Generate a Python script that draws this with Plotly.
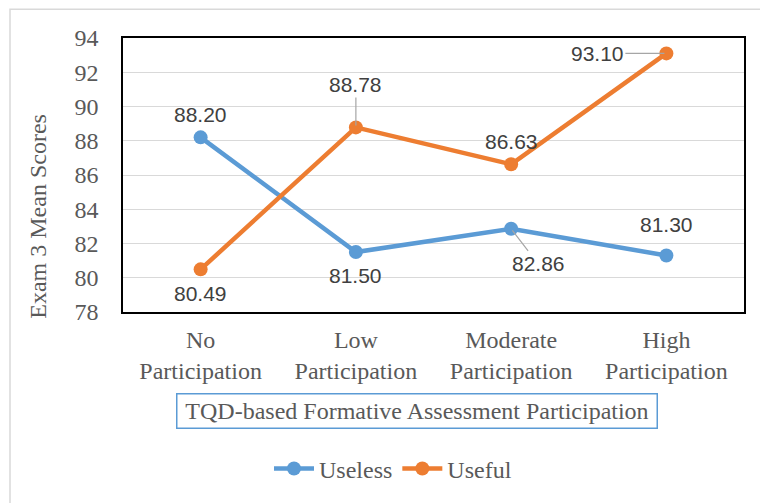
import plotly.graph_objects as go

# Exam 3 mean scores by formative-assessment participation level
categories = ["No<br>Participation", "Low<br>Participation",
              "Moderate<br>Participation", "High<br>Participation"]
useless = [88.20, 81.50, 82.86, 81.30]
useful = [80.49, 88.78, 86.63, 93.10]
y_ticks = [78, 80, 82, 84, 86, 88, 90, 92, 94]

BLUE = "#5B9BD5"
ORANGE = "#ED7D31"
SERIF = "Liberation Serif, Times New Roman, serif"
SANS = "Liberation Sans, Arial, sans-serif"

W, H = 760, 503
L, R, T, B = 123, 16, 38, 189
PW, PH = W - L - R, H - T - B


def px_x(px):
    return (px - L) / PW


def px_y(py):
    return (H - B - py) / PH


fig = go.Figure()
for name, vals, col in [("Useless", useless, BLUE), ("Useful", useful, ORANGE)]:
    fig.add_trace(go.Scatter(
        x=categories, y=vals, name=name, mode="lines+markers",
        line=dict(color=col, width=4.5),
        marker=dict(color=col, size=14),
    ))

# Data labels: (category index, value, x offset, y offset, leader line)
label_specs = [
    (0, useless[0], 0, -23, False),
    (1, useless[1], 0, 23, False),
    (2, useless[2], 27, 35, True),
    (3, useless[3], 0, -31, False),
    (0, useful[0], 0, 24, False),
    (1, useful[1], 0, -43, True),
    (2, useful[2], 0, -23, False),
    (3, useful[3], -69, 0, True),
]
annotations = []
for i, v, dx, dy, leader in label_specs:
    a = dict(x=categories[i], y=v, xref="x", yref="y", text=f"{v:.2f}",
             font=dict(family=SANS, size=21, color="#404040"))
    if leader:
        a.update(showarrow=True, ax=dx, ay=dy, arrowhead=0, arrowwidth=1.2,
                 arrowcolor="#A6A6A6", standoff=2)
    else:
        a.update(showarrow=False, yshift=-dy, xshift=dx)
    annotations.append(a)

# Y-axis title
annotations.append(dict(
    x=px_x(38), y=px_y(218), xref="paper", yref="paper", showarrow=False,
    text="Exam 3 Mean Scores", textangle=-90,
    font=dict(family=SERIF, size=24, color="#595959"),
    xanchor="center", yanchor="middle"))

# X-axis title in a bordered box
annotations.append(dict(
    x=px_x(416.5), y=px_y(413.5), xref="paper", yref="paper", showarrow=False,
    text="TQD-based Formative Assessment Participation",
    font=dict(family=SERIF, size=24, color="#595959"),
    xanchor="center", yanchor="middle",
    bordercolor=BLUE, borderwidth=1.5, borderpad=1, width=477, height=31,
    bgcolor="white"))

fig.update_layout(
    width=W, height=H,
    margin=dict(l=L, r=R, t=T, b=B),
    paper_bgcolor="white", plot_bgcolor="white",
    showlegend=True,
    legend=dict(orientation="h", x=px_x(393), y=px_y(472),
                xanchor="center", yanchor="middle",
                font=dict(family=SERIF, size=24, color="#595959"),
                itemwidth=40),
    annotations=annotations,
    shapes=[dict(type="rect", xref="paper", yref="paper",
                 x0=px_x(10), y0=px_y(9), x1=px_x(W + 20), y1=px_y(H + 20),
                 line=dict(color="#D9D9D9", width=1.5), layer="below")],
)
fig.update_xaxes(
    range=[-0.5, 3.5],
    showgrid=False, showline=True, linecolor="#000000", linewidth=1.5,
    mirror=True, ticks="", ticklabelstandoff=5,
    tickfont=dict(family=SERIF, size=24, color="#595959"),
)
fig.update_yaxes(
    range=[78, 94], tickvals=y_ticks, showgrid=True, gridcolor="#D9D9D9",
    gridwidth=1, showline=True, linecolor="#000000", linewidth=1.5,
    mirror=True, ticks="", ticklabelstandoff=18, zeroline=False,
    tickfont=dict(family=SERIF, size=24, color="#595959"),
)

fig.write_html("out.html")
